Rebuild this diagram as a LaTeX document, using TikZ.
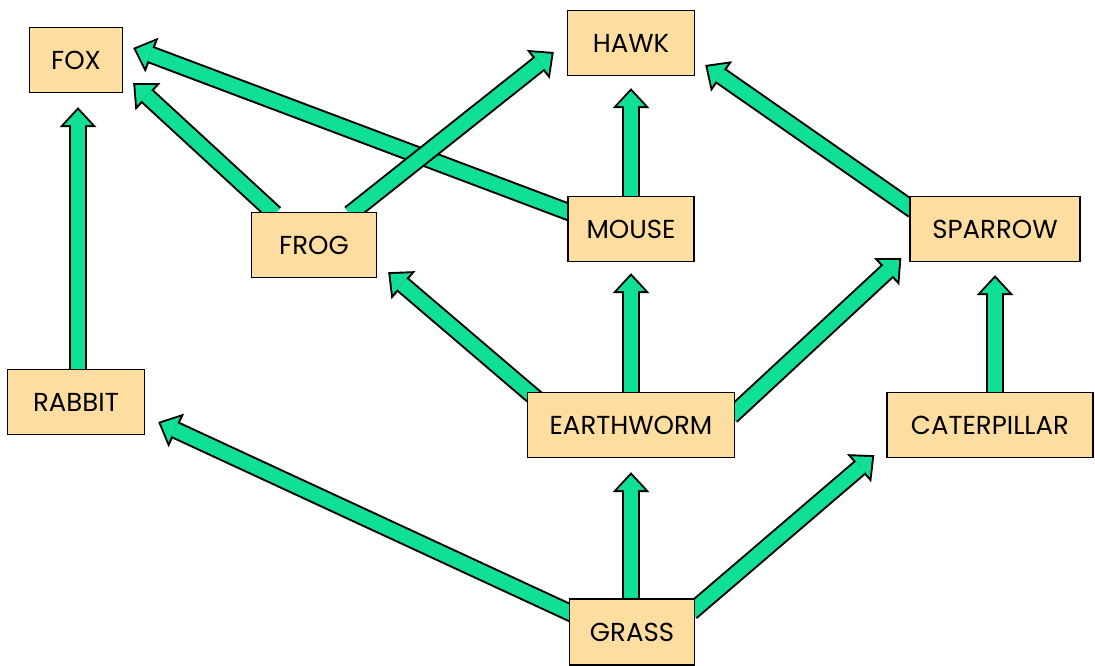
\documentclass[tikz,border=0pt]{standalone}
\usepackage{fontspec}
\setmainfont{Poppins}
\usepackage{xcolor}
\usetikzlibrary{arrows.meta,backgrounds}

\definecolor{boxfill}{RGB}{253,222,160}
\definecolor{arrowgreen}{RGB}{16,224,150}

\tikzset{
  organism/.style={draw, line width=0.7pt, fill=boxfill, minimum height=32.5pt,
    inner sep=0pt, font=\fontsize{13}{15}\selectfont},
  rim/.style={draw=black, line width=9pt,
    -{Triangle[width=18.5pt, length=10pt, line width=0pt]}},
  core/.style={draw=arrowgreen, line width=7pt, shorten >=1.45pt,
    -{Triangle[width=14pt, length=7.5pt, line width=0pt]}}
}

\begin{document}
\begin{tikzpicture}[x=0.5pt, y=-0.5pt]
                        \useasboundingbox (0,0) rectangle (1095,665);

                        \node [organism, minimum width=46.5pt] (fox) at (76,60) {FOX};
                        \node [organism, minimum width=63.5pt] (hawk) at (631,43) {HAWK};
                        \node [organism, minimum width=62.5pt] (frog) at (314,245) {FROG};
                        \node [organism, minimum width=63pt] (mouse) at (631,229) {MOUSE};
                        \node [organism, minimum width=85pt] (sparrow) at (995,229) {SPARROW};
                        \node [organism, minimum width=68.5pt] (rabbit) at (76,402) {RABBIT};
                        \node [organism, minimum width=103.5pt] (earthworm) at (631,425) {EARTHWORM};
                        \node [organism, minimum width=103pt] (caterpillar) at (990,425) {CATERPILLAR};
                        \node [organism, minimum width=62.5pt, minimum height=33pt] (grass) at (632,632) {GRASS};

                        % who is eaten by whom
                        \begin{pgfonlayer}{background}
                        \foreach \from/\to in {
                            ([shift={(2,2)}]rabbit.north)/([shift={(2,14)}]fox.south),
                            ([shift={(-39,2)}]frog.north)/([shift={(10,-10)}]fox.south east),
                            ([shift={(4,-16)}]mouse.west)/([shift={(10,-12)}]fox.east),
                            ([shift={(36,2)}]frog.north)/([shift={(-13,9)}]hawk.west),
                            ([shift={(0,2)}]mouse.north)/([shift={(0,12)}]hawk.south),
                            ([shift={(4,-19)}]sparrow.west)/([shift={(10,22)}]hawk.east),
                            ([shift={(12,9)}]earthworm.north west)/([shift={(11,-6)}]frog.south east),
                            ([shift={(0,2)}]earthworm.north)/([shift={(0,11)}]mouse.south),
                            ([shift={(-4,-9)}]earthworm.east)/([shift={(-8,-4)}]sparrow.south west),
                            ([shift={(5,2)}]caterpillar.north)/([shift={(0,13)}]sparrow.south),
                            ([shift={(4,-18)}]grass.west)/([shift={(13,20)}]rabbit.east),
                            ([shift={(-1,2)}]grass.north)/([shift={(0,14)}]earthworm.south),
                            ([shift={(-4,-20)}]grass.east)/([shift={(-12,-3)}]caterpillar.south west)
                        } {
                            \draw [rim] \from -- \to;
                            \draw [core] \from -- \to;
                        }
                        \end{pgfonlayer}
                    \end{tikzpicture}
\end{document}
